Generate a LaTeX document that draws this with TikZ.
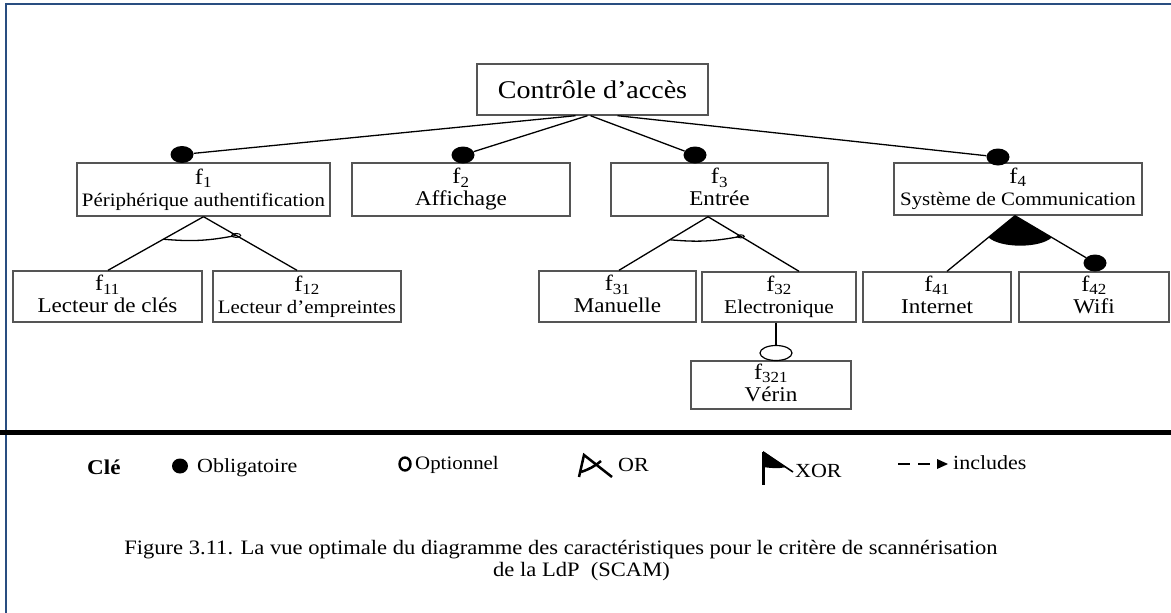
\documentclass[tikz,border=0pt]{standalone}
\usepackage{fontspec}
\setmainfont{Liberation Serif}[FakeStretch=1.1]
\usetikzlibrary{shapes.geometric,calc}

\definecolor{framebl}{RGB}{41,77,128}
\definecolor{boxgray}{RGB}{85,85,85}

% feature label f_{n}
\newcommand\flab[1]{{\fontsize{22}{22}\selectfont f\textsubscript{#1}}}
% feature name at a given size, with a fixed descender depth
\newcommand\fname[2]{{\fontsize{#1}{22}\selectfont #2\vphantom{g}}}

\begin{document}
\begin{tikzpicture}[x=1pt,y=-1pt,
  feat/.style={draw=boxgray, line width=1.4pt, rectangle, inner sep=0pt,
               align=center, font=\fontsize{20}{22}\selectfont},
  mand/.style={ellipse, fill=black, draw=none, minimum width=23pt,
               minimum height=17pt, inner sep=0pt},
  opt/.style={ellipse, draw=black, fill=white, line width=1.2pt,
              minimum width=32pt, minimum height=15pt, inner sep=0pt},
  link/.style={line width=1.3pt, black},
  legtxt/.style={anchor=base west, inner sep=0pt, font=\fontsize{20}{22}\selectfont},
]
\useasboundingbox (0,0) rectangle (1171,613);

% page frame and separator rule
\draw[framebl, line width=2.5pt] (6,613) -- (6,4) -- (1171,4);
\draw[line width=4.5pt] (0,432.5) -- (1171,432.5);

% feature boxes
\node[feat, minimum width=231pt, minimum height=51pt, font=\fontsize{25.5}{28}\selectfont]
  (root) at (592.5,89.5) {Contrôle d’accès};
\node[feat, minimum width=253pt, minimum height=53pt] (f1) at (203.5,189.5)
  {\flab{1}\\\fname{19}{Périphérique authentification}};
\node[feat, minimum width=218pt, minimum height=53pt] (f2) at (461,189.5)
  {\flab{2}\\\fname{21}{Affichage}};
\node[feat, minimum width=217pt, minimum height=53pt] (f3) at (719.5,189.5)
  {\flab{3}\\\fname{21}{Entrée}};
\node[feat, minimum width=248pt, minimum height=52pt] (f4) at (1018,189)
  {\flab{4}\\\fname{19}{Système de Communication}};
\node[feat, minimum width=189pt, minimum height=51pt] (f11) at (107.5,296.5)
  {\flab{11}\\\fname{21}{Lecteur de clés}};
\node[feat, minimum width=188pt, minimum height=51pt] (f12) at (307,296.5)
  {\flab{12}\\\fname{19}{Lecteur d’empreintes}};
\node[feat, minimum width=157pt, minimum height=51pt] (f31) at (617.5,296.5)
  {\flab{31}\\\fname{21}{Manuelle}};
\node[feat, minimum width=154pt, minimum height=50pt] (f32) at (779,297)
  {\flab{32}\\\fname{19.5}{Electronique}};
\node[feat, minimum width=148pt, minimum height=50pt] (f41) at (937,297)
  {\flab{41}\\\fname{21}{Internet}};
\node[feat, minimum width=150pt, minimum height=50pt] (f42) at (1094,297)
  {\flab{42}\\\fname{21}{Wifi}};
\node[feat, minimum width=160pt, minimum height=48pt] (f321) at (771,385)
  {\flab{321}\\\fname{21}{Vérin}};

% mandatory markers
\node[mand] (d1) at (182,154.5) {};
\node[mand] (d2) at (463,155) {};
\node[mand] (d3) at (695,155) {};
\node[mand] (d4) at (998,157) {};
\node[mand] (d42) at (1095,263) {};
% optional marker
\node[opt] (o321) at (776,353) {};

% root to first level
\draw[link] ([xshift=-17pt]root.south) -- (d1);
\draw[link] ([xshift=-5pt]root.south) -- (d2);
\draw[link] ([xshift=-2pt]root.south) -- (d3);
\draw[link] ([xshift=25pt]root.south) -- (d4);

% f1 group (OR)
\coordinate (l11) at ([xshift=0.5pt]f11.north);
\coordinate (l12) at ([xshift=-10pt]f12.north);
\draw[link] (f1.south) -- (l11);
\draw[link] (f1.south) -- (l12);
\draw[link] ($(f1.south)!0.42!(l11)$) to[bend right=8] ($(f1.south)!0.35!(l12)$);
\draw[line width=1pt] ($(f1.south)!0.35!(l12)$) ellipse (4.5pt and 2pt);

% f3 group (OR)
\coordinate (a3) at ([xshift=-11.5pt]f3.south);
\coordinate (l31) at ([xshift=1.5pt]f31.north);
\coordinate (l32) at ([xshift=20pt]f32.north);
\draw[link] (a3) -- (l31);
\draw[link] (a3) -- (l32);
\draw[link] ($(a3)!0.43!(l31)$) to[bend right=8] ($(a3)!0.36!(l32)$);
\draw[line width=1pt] ($(a3)!0.36!(l32)$) ellipse (3.5pt and 1.5pt);

% f32 optional child
\draw[link] ([xshift=-3pt]f32.south) -- (o321);

% f4 group (XOR)
\coordinate (x4) at ([xshift=-3pt]f4.south);
\coordinate (l41) at ([xshift=10pt]f41.north);
\draw[link] (x4) -- (l41);
\draw[link] (x4) -- (d42);
\fill (x4) -- ($(x4)!0.39!(l41)$) .. controls +(12,11) and +(-12,11) .. ($(x4)!0.46!(d42)$) -- cycle;

% legend
\node[legtxt, font=\fontsize{21}{22}\selectfont\bfseries] (kcle) at (87,474) {Clé};
\fill (180,466) ellipse (8pt and 7.5pt);
\node[legtxt] (kobl) at (197,472) {Obligatoire};
\draw[line width=2.4pt] (405,464) ellipse (5.5pt and 6.5pt);
\node[legtxt, font=\fontsize{19}{22}\selectfont] (kopt) at (415,469) {Optionnel};
\draw[line width=2.5pt] (579,477) -- (584,455) -- (612,477);
\draw[line width=2.5pt] (581,472) to[bend right=10] (601,461);
\node[legtxt] (kor) at (618,471) {OR};
\draw[line width=3pt] (763,452) -- (763,485);
\draw[line width=1.6pt] (763,452) -- (793,472);
\fill (763,451) -- (786,467) .. controls (778,469) and (770,468) .. (763,467) -- cycle;
\node[legtxt] (kxor) at (795,477) {XOR};
\draw[line width=2.5pt, dash pattern=on 12pt off 8pt] (898,464) -- (933,464);
\fill (937,459) -- (948,464) -- (937,469) -- cycle;
\node[legtxt] (kinc) at (953,469) {includes};

% caption
\node[anchor=base, inner sep=0pt, font=\fontsize{20.5}{22}\selectfont] (cap1) at (561,554)
  {Figure 3.11. La vue optimale du diagramme des caractéristiques pour le critère de scannérisation};
\node[anchor=base west, inner sep=0pt, font=\fontsize{20.5}{22}\selectfont] (cap2) at (493,576)
  {de la LdP\ \ (SCAM)};
\end{tikzpicture}
\end{document}
